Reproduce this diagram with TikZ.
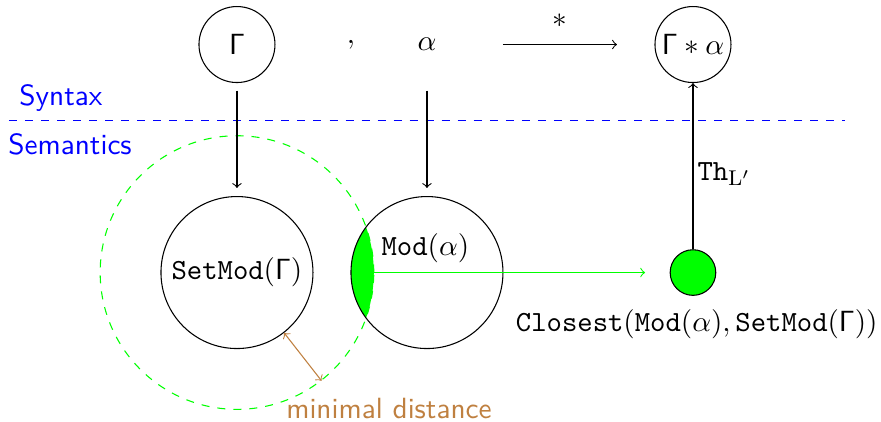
\documentclass[tikz,border=0pt]{standalone}
\usetikzlibrary{arrows}
\begin{document}
\begin{tikzpicture}[
  every node/.style={font=\fontsize{10.95}{13.6}\selectfont},
  small/.style={circle, minimum size=1cm, inner sep=0pt},
  big/.style={circle, draw, minimum size=2cm, inner sep=0pt},
  conn/.style={->, shorten <=2.8pt, shorten >=3pt},
  sidelabel/.style={text=blue, font=\fontsize{10.95}{13.6}\selectfont\sffamily, anchor=base},
]
\useasboundingbox (-3.118,-1.954) rectangle (8.474,3.586);
% syntax row
\node[small, draw] (G) at (0,3) {$\mathsf{\Gamma}$};
\node (comma) at (1.5,3) {$,$};
\node[small] (A) at (2.5,3) {$\alpha$};
\node[small, draw] (GA) at (6,3) {$\mathsf{\Gamma}*\alpha$};
\coordinate (s1) at (3.5,3);
\coordinate (s2) at (5,3);
\draw[->] (s1) -- node[above=3pt] (star) {$*$} (s2);
% separator
\node[sidelabel] (syn) at (-2.316,2.204) {Syntax};
\node[sidelabel] (sem) at (-2.197,1.559) {Semantics};
\coordinate (l1) at (-3,2);
\coordinate (l2) at (8,2);
\draw[blue, dashed] (l1) -- (l2);
% semantics
\node[circle, draw=green, dashed, minimum size=3.6cm, inner sep=0pt] (D) at (0,0) {};
\begin{scope}
  \clip (0,0) circle (1.8);
  \fill[green] (2.5,0) circle (1);
\end{scope}
\node[big] (SM) at (0,0) {\texttt{SetMod}$(\mathsf{\Gamma})$};
\node[big] (M) at (2.5,0) {};
\node (Mlab) at (2.48,0.32) {\texttt{Mod}$(\alpha)$};
\node[circle, draw, fill=green, minimum size=0.6cm, inner sep=0pt] (dot) at (6,0) {};
\node (cl) at (6.05,-0.68) {\texttt{Closest}$(\texttt{Mod}(\alpha),\texttt{SetMod}(\mathsf{\Gamma}))$};
\coordinate (gend) at (5.37,0);
\draw[->, green] (D.east) -- (gend);
\draw[conn] (G) -- (SM);
\draw[conn] (A) -- (M);
\draw[->] (dot) -- node[right, pos=0.45, inner sep=1.5pt] (th) {\texttt{Th}$_{\mathrm{L}'}$} (GA);
\draw[<->, brown] (SM.-52) -- (D.-52);
\node[text=brown, font=\fontsize{10.95}{13.6}\selectfont\sffamily] (md) at (2,-1.79) {minimal distance};
\end{tikzpicture}
\end{document}
